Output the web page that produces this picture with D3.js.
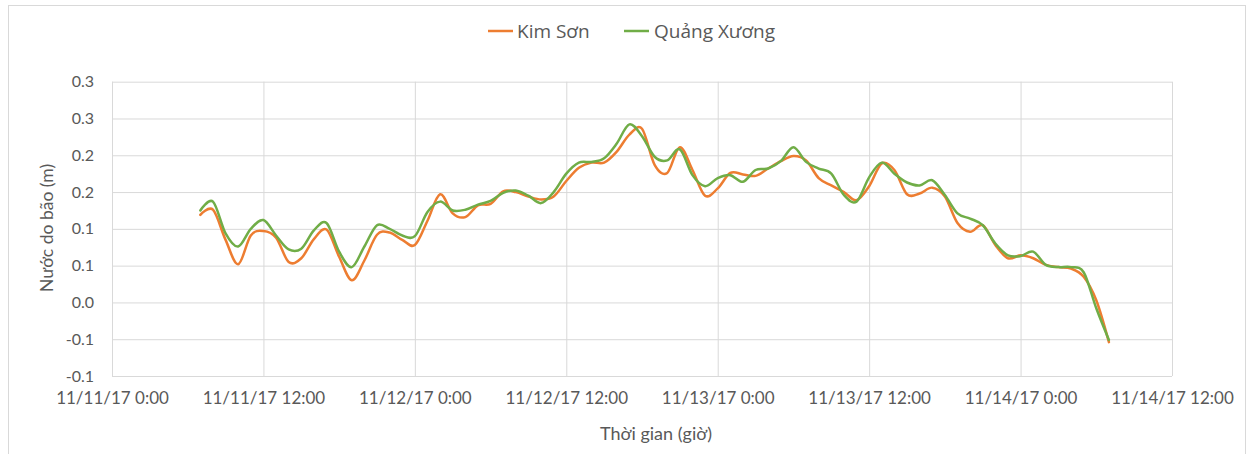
<!DOCTYPE html>
<html>
<head>
<meta charset="utf-8">
<script src="https://cdn.jsdelivr.net/npm/d3@7"></script>
<style>
  html, body { margin: 0; padding: 0; background: #fff; }
  svg { display: block; }
  text { font-family: Lato, "Open Sans", sans-serif; fill: #595959; }
</style>
</head>
<body>
<svg id="chart" width="1247" height="454"></svg>
<script>
const seriesNames = ["Kim Sơn", "Quảng Xương"];
const seriesColors = ["#ED7D31", "#70AD47"];

const times = [
  "2017-11-11 07:00","2017-11-11 08:00","2017-11-11 09:00","2017-11-11 10:00","2017-11-11 11:00","2017-11-11 12:00",
  "2017-11-11 13:00","2017-11-11 14:00","2017-11-11 15:00","2017-11-11 16:00","2017-11-11 17:00","2017-11-11 18:00",
  "2017-11-11 19:00","2017-11-11 20:00","2017-11-11 21:00","2017-11-11 22:00","2017-11-11 23:00",
  "2017-11-12 00:00","2017-11-12 01:00","2017-11-12 02:00","2017-11-12 03:00","2017-11-12 04:00","2017-11-12 05:00",
  "2017-11-12 06:00","2017-11-12 07:00","2017-11-12 08:00","2017-11-12 09:00","2017-11-12 10:00","2017-11-12 11:00",
  "2017-11-12 12:00","2017-11-12 13:00","2017-11-12 14:00","2017-11-12 15:00","2017-11-12 16:00","2017-11-12 17:00",
  "2017-11-12 18:00","2017-11-12 19:00","2017-11-12 20:00","2017-11-12 21:00","2017-11-12 22:00","2017-11-12 23:00",
  "2017-11-13 00:00","2017-11-13 01:00","2017-11-13 02:00","2017-11-13 03:00","2017-11-13 04:00","2017-11-13 05:00",
  "2017-11-13 06:00","2017-11-13 07:00","2017-11-13 08:00","2017-11-13 09:00","2017-11-13 10:00","2017-11-13 11:00",
  "2017-11-13 12:00","2017-11-13 13:00","2017-11-13 14:00","2017-11-13 15:00","2017-11-13 16:00","2017-11-13 17:00",
  "2017-11-13 18:00","2017-11-13 19:00","2017-11-13 20:00","2017-11-13 21:00","2017-11-13 22:00","2017-11-13 23:00",
  "2017-11-14 00:00","2017-11-14 01:00","2017-11-14 02:00","2017-11-14 03:00","2017-11-14 04:00","2017-11-14 05:00",
  "2017-11-14 06:00","2017-11-14 07:00"
];

const kimSon = [
  0.119, 0.126, 0.085, 0.052, 0.091, 0.097, 0.088, 0.055, 0.060, 0.086, 0.099, 0.062, 0.030, 0.057, 0.092, 0.095, 0.085,
  0.078, 0.111, 0.147, 0.121, 0.116, 0.132, 0.134, 0.151, 0.150, 0.144, 0.140, 0.144,
  0.165, 0.183, 0.190, 0.190, 0.205, 0.228, 0.236, 0.187, 0.176, 0.211, 0.180, 0.145,
  0.155, 0.176, 0.174, 0.172, 0.182, 0.192, 0.199, 0.193, 0.169, 0.159, 0.150, 0.139,
  0.158, 0.189, 0.180, 0.147, 0.148, 0.156, 0.144, 0.108, 0.096, 0.105, 0.078, 0.060,
  0.064, 0.060, 0.051, 0.048, 0.046, 0.035, 0.003, -0.054
];

const quangXuong = [
  0.125, 0.137, 0.094, 0.076, 0.100, 0.112, 0.091, 0.072, 0.073, 0.098, 0.108, 0.069, 0.048, 0.076, 0.105, 0.100, 0.091,
  0.090, 0.123, 0.137, 0.125, 0.126, 0.133, 0.138, 0.149, 0.152, 0.145, 0.135, 0.150,
  0.175, 0.190, 0.191, 0.196, 0.216, 0.242, 0.226, 0.198, 0.193, 0.208, 0.173, 0.158,
  0.169, 0.173, 0.164, 0.180, 0.182, 0.192, 0.211, 0.191, 0.182, 0.175, 0.146, 0.137,
  0.170, 0.190, 0.175, 0.163, 0.159, 0.166, 0.146, 0.121, 0.114, 0.105, 0.080, 0.064,
  0.063, 0.069, 0.051, 0.048, 0.048, 0.041, -0.008, -0.051
];

const xTickTimes = ["2017-11-11 00:00","2017-11-11 12:00","2017-11-12 00:00","2017-11-12 12:00",
                    "2017-11-13 00:00","2017-11-13 12:00","2017-11-14 00:00","2017-11-14 12:00"];
const xTickLabels = ["11/11/17 0:00","11/11/17 12:00","11/12/17 0:00","11/12/17 12:00",
                     "11/13/17 0:00","11/13/17 12:00","11/14/17 0:00","11/14/17 12:00"];
const yTickValues = [-0.1, -0.05, 0, 0.05, 0.1, 0.15, 0.2, 0.25, 0.3];
const yTickLabels = ["-0.1", "-0.1", "0.0", "0.1", "0.1", "0.2", "0.2", "0.3", "0.3"];

const xTitle = "Thời gian (giờ)";
const yTitle = "Nước do bão (m)";

const parse = d3.timeParse("%Y-%m-%d %H:%M");
const svg = d3.select("#chart");

// outer frame
svg.append("rect").attr("x", 8.5).attr("y", 5.5).attr("width", 1237).attr("height", 460)
  .attr("fill", "none").attr("stroke", "#d9d9d9").attr("stroke-width", 1);

const plot = { left: 112, right: 1172, top: 81.7, bottom: 376 };

const x = d3.scaleTime()
  .domain([parse(xTickTimes[0]), parse(xTickTimes[xTickTimes.length - 1])])
  .range([plot.left, plot.right]);
const y = d3.scaleLinear().domain([-0.1, 0.3]).range([plot.bottom, plot.top]);

// horizontal gridlines
const yGrid = svg.append("g").attr("transform", `translate(${plot.left},0)`)
  .call(d3.axisLeft(y).tickValues(yTickValues).tickSize(-(plot.right - plot.left)).tickFormat(""));
yGrid.select(".domain").remove();
yGrid.selectAll("line").attr("stroke", "#d9d9d9").attr("stroke-width", 1);

// vertical gridlines
const xTickDates = xTickTimes.map(parse);
const xGrid = svg.append("g").attr("transform", `translate(0,${plot.bottom})`)
  .call(d3.axisBottom(x).tickValues(xTickDates).tickSize(-(plot.bottom - plot.top)).tickFormat(""));
xGrid.select(".domain").remove();
xGrid.selectAll("line").attr("stroke", "#d9d9d9").attr("stroke-width", 1);

// y tick labels
const yAxis = svg.append("g").attr("transform", `translate(${plot.left},0)`)
  .call(d3.axisLeft(y).tickValues(yTickValues).tickSize(0).tickPadding(18)
    .tickFormat((d, i) => yTickLabels[i]));
yAxis.select(".domain").remove();
yAxis.selectAll("text").style("font-size", "16px").attr("fill", "#595959");

// x tick labels
const xAxis = svg.append("g").attr("transform", `translate(0,${plot.bottom})`)
  .call(d3.axisBottom(x).tickValues(xTickDates).tickSize(0).tickPadding(16)
    .tickFormat((d, i) => xTickLabels[i]));
xAxis.select(".domain").remove();
xAxis.selectAll("text").style("font-size", "17px").attr("fill", "#595959");

// axis titles
svg.append("text").attr("x", 656).attr("y", 440).attr("text-anchor", "middle")
  .style("font-size", "18px").text(xTitle);
svg.append("text").attr("transform", "translate(53,228) rotate(-90)").attr("text-anchor", "middle")
  .style("font-size", "17.5px").text(yTitle);

// lines
const line = d3.line()
  .x((d, i) => x(parse(times[i])))
  .y(d => y(d))
  .curve(d3.curveCatmullRom.alpha(0));

[kimSon, quangXuong].forEach((vals, k) => {
  svg.append("path").datum(vals).attr("d", line)
    .attr("fill", "none").attr("stroke", seriesColors[k])
    .attr("stroke-width", 2.5).attr("stroke-linejoin", "round").attr("stroke-linecap", "round");
});

// legend
const legendItems = [{ x: 488, tx: 517 }, { x: 624, tx: 654 }];
legendItems.forEach((it, k) => {
  svg.append("line").attr("x1", it.x).attr("x2", it.x + 25).attr("y1", 31).attr("y2", 31)
    .attr("stroke", seriesColors[k]).attr("stroke-width", 2.5);
  svg.append("text").attr("x", it.tx).attr("y", 38).style("font-family", "'Open Sans', sans-serif")
    .style("font-size", "19px").text(seriesNames[k]);
});
</script>
</body>
</html>
